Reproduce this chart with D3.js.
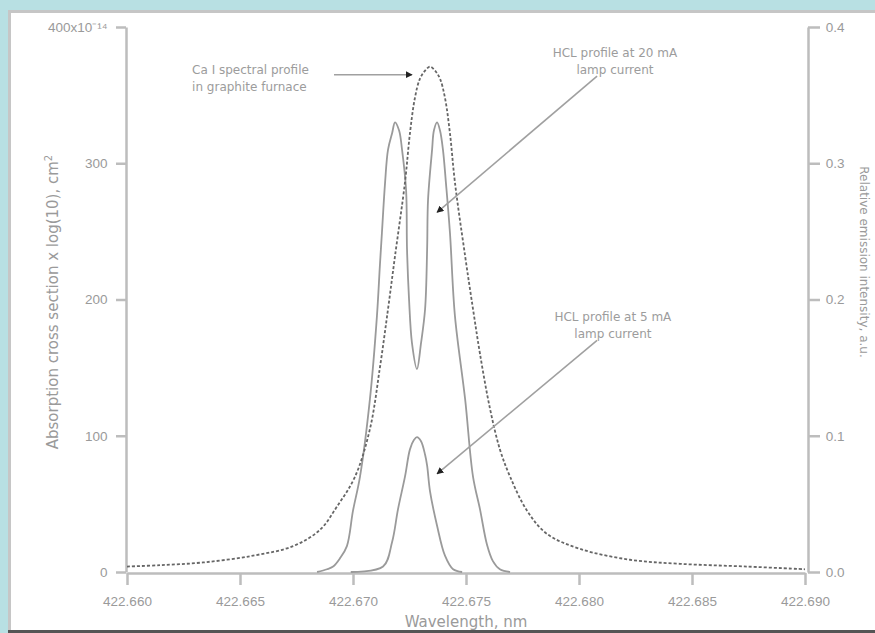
<!DOCTYPE html>
<html>
<head>
<meta charset="utf-8">
<script src="https://cdn.jsdelivr.net/npm/d3@7"></script>
<style>
    body { margin: 0; background: #b8e0e3; }
    svg { display: block; font-family: "DejaVu Sans", Verdana, sans-serif; }
    .axis path, .axis line { stroke: #bdbdbd; stroke-width: 2.5; }
    .axis text { fill: #9a9a9a; font-size: 13.5px; }
    .label { fill: #9a9a9a; font-size: 15px; }
    .note { fill: #9c9c9c; font-size: 12px; }
</style>
</head>
<body>
<div id="chart"></div>
<script>
// Ca I spectral profile in graphite furnace (left axis, x10^-14 cm^2)
const furnaceWl = [422.66000, 422.66146, 422.66336, 422.66558, 422.66735, 422.66854, 422.66929, 422.67009,
    422.67075, 422.67119, 422.67155, 422.67186, 422.67230, 422.67252, 422.67274, 422.67296, 422.67319,
    422.67341, 422.67363, 422.67385, 422.67407, 422.67429, 422.67451, 422.67496, 422.67531, 422.67562,
    422.67606, 422.67650, 422.67695, 422.67770, 422.67858, 422.68004, 422.68226, 422.68447, 422.68743, 422.69000];
const furnaceVal = [4, 5, 7, 12, 19, 31, 48, 70,
    105, 150, 193, 232, 286, 322, 348, 362, 368,
    371, 368, 362, 348, 322, 286, 232, 193, 160,
    120, 90, 70, 45, 28, 17, 9, 6, 4, 2];

// HCL profile at 20 mA lamp current (right axis)
const hcl20Wl = [422.66841, 422.66885, 422.66912, 422.66942, 422.66973, 422.67000, 422.67031, 422.67075,
    422.67106, 422.67119, 422.67128, 422.67142, 422.67155, 422.67173, 422.67186, 422.67204, 422.67217,
    422.67235, 422.67239, 422.67248, 422.67261, 422.67283, 422.67301, 422.67319, 422.67328, 422.67332,
    422.67350, 422.67358, 422.67372, 422.67385, 422.67398, 422.67411, 422.67429, 422.67451, 422.67496,
    422.67531, 422.67562, 422.67593, 422.67619, 422.67650, 422.67695];
const hcl20Val = [0, 0.002, 0.004, 0.010, 0.019, 0.045, 0.070, 0.127,
    0.188, 0.225, 0.249, 0.286, 0.310, 0.322, 0.330, 0.324, 0.310,
    0.280, 0.237, 0.200, 0.168, 0.149, 0.168, 0.193, 0.237, 0.273,
    0.310, 0.324, 0.330, 0.324, 0.310, 0.286, 0.249, 0.188, 0.127,
    0.070, 0.046, 0.020, 0.008, 0.002, 0];

// HCL profile at 5 mA lamp current (right axis)
const hcl5Wl = [422.66990, 422.67133, 422.67173, 422.67199, 422.67230, 422.67252, 422.67270, 422.67283,
    422.67301, 422.67319, 422.67328, 422.67341, 422.67372, 422.67407, 422.67443, 422.67483];
const hcl5Val = [0, 0.004, 0.022, 0.046, 0.070, 0.090, 0.097, 0.099,
    0.096, 0.086, 0.078, 0.059, 0.034, 0.012, 0.002, 0];

const xTicks = [422.660, 422.665, 422.670, 422.675, 422.680, 422.685, 422.690];
const leftTicks = [0, 100, 200, 300, 400];
const rightTicks = [0, 0.1, 0.2, 0.3, 0.4];

// annotations: text lines, anchor point and arrow ends in data units (left-axis values)
const notes = [
    {lines: ['Ca I spectral profile', 'in graphite furnace'], at: [422.66288, 365.5], anchor: 'start',
     from: [422.66916, 365], to: [422.67261, 365]},
    {lines: ['HCL profile at 20 mA', 'lamp current'], at: [422.68159, 378], anchor: 'middle',
     from: [422.68080, 364], to: [422.67372, 264]},
    {lines: ['HCL profile at 5 mA', 'lamp current'], at: [422.68150, 184], anchor: 'middle',
     from: [422.68080, 170], to: [422.67372, 72]}
];

class ProfileChart {
    constructor(_config) {
        this.config = {
            parentElement: _config.parentElement,
            width: 875,
            height: 633,
            plot: {left: 126, right: 806, top: 27, bottom: 572}
        };
        this.initVis();
    }

    initVis() {
        let vis = this;
        const p = vis.config.plot;

        vis.svg = d3.select(vis.config.parentElement).append('svg')
            .attr('width', vis.config.width)
            .attr('height', vis.config.height);

        // panel frame
        vis.svg.append('rect').attr('width', vis.config.width).attr('height', vis.config.height).attr('fill', '#b8e0e3');
        vis.svg.append('rect').attr('x', 8).attr('y', 10).attr('width', 867).attr('height', 621).attr('fill', '#c6c6c6');
        vis.svg.append('rect').attr('x', 11).attr('y', 13).attr('width', 864).attr('height', 617).attr('fill', '#fff');
        vis.svg.append('rect').attr('x', 8).attr('y', 630).attr('width', 867).attr('height', 3).attr('fill', '#555');

        vis.xScale = d3.scaleLinear().domain([422.660, 422.690]).range([p.left + 1, p.right - 1]);
        vis.yLeft = d3.scaleLinear().domain([0, 400]).range([p.bottom, p.top]);
        vis.yRight = d3.scaleLinear().domain([0, 0.4]).range([p.bottom, p.top]);

        vis.svg.append('g')
            .attr('class', 'axis')
            .attr('transform', `translate(0,${p.bottom + 1})`)
            .call(d3.axisBottom(vis.xScale).tickValues(xTicks).tickFormat(d3.format('.3f')).tickSize(12).tickSizeOuter(0))
            .call(g => g.selectAll('text').attr('dy', '1.3em'));

        vis.svg.append('g')
            .attr('class', 'axis')
            .attr('transform', `translate(${p.left},0)`)
            .call(d3.axisLeft(vis.yLeft).tickValues(leftTicks).tickSize(10).tickSizeOuter(0)
                .tickFormat(d => d === 400 ? '400x10\u207B\u00B9\u2074' : d))
            .call(g => g.selectAll('text').attr('dx', '-0.4em'));

        vis.svg.append('g')
            .attr('class', 'axis')
            .attr('transform', `translate(${p.right + 2},0)`)
            .call(d3.axisRight(vis.yRight).tickValues(rightTicks).tickSize(12).tickSizeOuter(0)
                .tickFormat(d3.format('.1f')))
            .call(g => g.selectAll('text').attr('dx', '0.2em'));

        // axis titles
        vis.svg.append('text')
            .attr('class', 'label')
            .attr('text-anchor', 'middle')
            .attr('x', (p.left + p.right) / 2)
            .attr('y', 627)
            .text('Wavelength, nm');

        vis.svg.append('text')
            .attr('class', 'label')
            .attr('text-anchor', 'middle')
            .attr('transform', 'rotate(-90)')
            .attr('x', -302)
            .attr('y', 58)
            .html('Absorption cross section x log(10), cm<tspan dy="-6" font-size="10">2</tspan>');

        vis.svg.append('text')
            .attr('class', 'label')
            .attr('text-anchor', 'middle')
            .attr('transform', 'rotate(90)')
            .attr('x', 262)
            .attr('y', -860)
            .style('font-size', '12px')
            .text('Relative emission intensity, a.u.');

        vis.svg.append('defs').append('marker')
            .attr('id', 'arrow')
            .attr('viewBox', '0 -5 10 10')
            .attr('refX', 9)
            .attr('markerWidth', 7)
            .attr('markerHeight', 7)
            .attr('markerUnits', 'userSpaceOnUse')
            .attr('orient', 'auto')
            .append('path')
            .attr('d', 'M0,-5L10,0L0,5Z')
            .attr('fill', '#222');

        vis.renderVis();
    }

    renderVis() {
        let vis = this;

        const lineLeft = d3.line()
            .x(d => vis.xScale(d[0]))
            .y(d => vis.yLeft(d[1]))
            .curve(d3.curveCatmullRom.alpha(0.5));
        const lineRight = d3.line()
            .x(d => vis.xScale(d[0]))
            .y(d => vis.yRight(d[1]))
            .curve(d3.curveCatmullRom.alpha(0.5));

        const furnace = furnaceWl.map((w, i) => [w, furnaceVal[i]]);
        const hcl20 = hcl20Wl.map((w, i) => [w, hcl20Val[i]]);
        const hcl5 = hcl5Wl.map((w, i) => [w, hcl5Val[i]]);

        vis.svg.append('path')
            .datum(hcl20)
            .attr('d', lineRight)
            .attr('fill', 'none')
            .attr('stroke', '#9a9a9a')
            .attr('stroke-width', 1.8);

        vis.svg.append('path')
            .datum(hcl5)
            .attr('d', lineRight)
            .attr('fill', 'none')
            .attr('stroke', '#9a9a9a')
            .attr('stroke-width', 1.8);

        vis.svg.append('path')
            .datum(furnace)
            .attr('d', lineLeft)
            .attr('fill', 'none')
            .attr('stroke', '#666')
            .attr('stroke-width', 1.8)
            .attr('stroke-dasharray', '3,2');

        // annotations
        const g = vis.svg.append('g');
        g.selectAll('.arrow')
            .data(notes)
            .join('line')
            .attr('class', 'arrow')
            .attr('x1', d => vis.xScale(d.from[0]))
            .attr('y1', d => vis.yLeft(d.from[1]))
            .attr('x2', d => vis.xScale(d.to[0]))
            .attr('y2', d => vis.yLeft(d.to[1]))
            .attr('stroke', '#a0a0a0')
            .attr('stroke-width', 1.6)
            .attr('marker-end', 'url(#arrow)');

        g.selectAll('.note')
            .data(notes)
            .join('text')
            .attr('class', 'note')
            .attr('text-anchor', d => d.anchor)
            .attr('x', d => vis.xScale(d.at[0]))
            .attr('y', d => vis.yLeft(d.at[1]))
            .selectAll('tspan')
            .data(d => d.lines.map(l => ({l, x: vis.xScale(d.at[0])})))
            .join('tspan')
            .attr('x', d => d.x)
            .attr('dy', (d, i) => i === 0 ? 0 : 17)
            .text(d => d.l);
    }
}

new ProfileChart({parentElement: '#chart'});
</script>
</body>
</html>
